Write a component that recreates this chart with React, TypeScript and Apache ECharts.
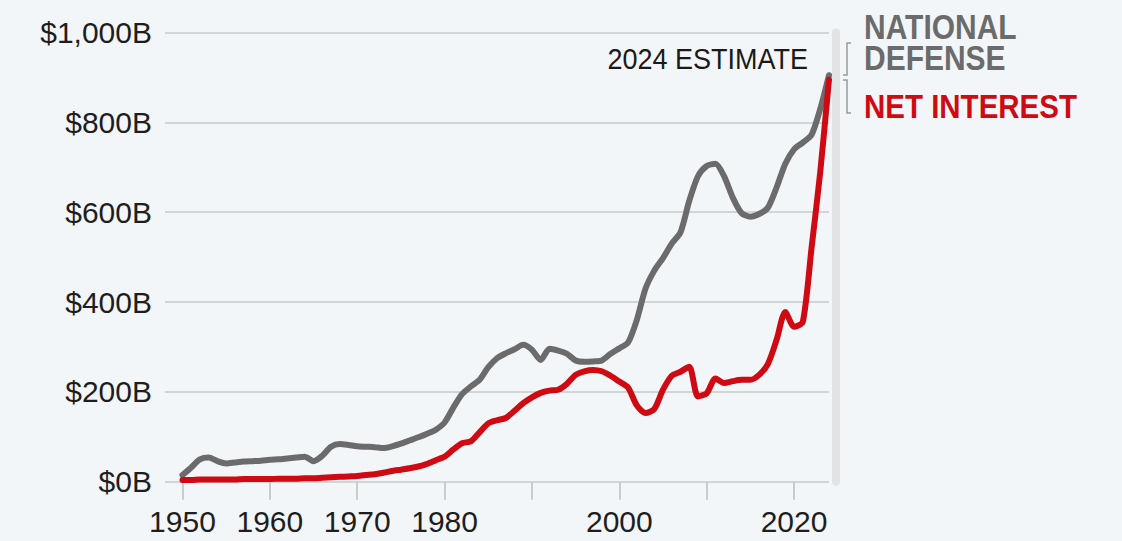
import React, { useEffect, useRef } from "react";
import * as echarts from "echarts";

// Federal outlays by year, billions of dollars
const firstYear = 1950;
const nationalDefense = [
  15, 32, 50, 54, 46, 41, 43, 45, 46, 47,
  49, 50, 52, 54, 56, 46, 58, 78, 84, 82,
  79, 78, 77, 75, 79, 85, 92, 99, 107, 116,
  132, 165, 195, 212, 227, 255, 275, 286, 295, 305,
  294, 271, 296, 292, 285, 270, 267, 268, 270, 285,
  297, 310, 360, 430, 470, 498, 530, 555, 625, 680,
  703, 708, 680, 632, 598, 590, 596, 610, 655, 708,
  740, 755, 772, 830, 905,
];
const netInterest = [
  4, 4, 5, 5, 5, 5, 5, 6, 6, 6,
  6, 7, 7, 7, 8, 8, 9, 10, 11, 12,
  13, 15, 17, 20, 24, 27, 30, 34, 40, 48,
  56, 72, 86, 90, 110, 130, 137, 142, 158, 175,
  188, 198, 203, 205, 218, 238, 246, 249, 246, 236,
  223, 210, 170, 153, 162, 205, 236, 245, 256, 190,
  197, 230, 220, 224, 227, 227, 238, 262, 316, 378,
  345, 356, 520, 690, 895,
];
const xTickYears = [1950, 1960, 1970, 1980, 1990, 2000, 2010, 2020];
const xLabelYears = [1950, 1960, 1970, 1980, 2000, 2020];

const legendLines = ["NATIONAL", "DEFENSE"];
const seriesNames = ["NATIONAL DEFENSE", "NET INTEREST"];
const estimateNote = "2024 ESTIMATE";

const GRAY = "#6b6b6b";
const RED = "#cf0a12";
const BG = "#f3f6f9";
const SANS = '"Liberation Sans", Arial, sans-serif';

const toPairs = (vals: number[]) => vals.map((v, i) => [firstYear + i, v]);

export default function App() {
  const ref = useRef<HTMLDivElement>(null);

  useEffect(() => {
    document.body.style.margin = "0";
    document.body.style.background = BG;
    const chart = echarts.init(ref.current!, null, { renderer: "svg" });

    const labelText = (text: string, x: number, y: number, opts: any) => ({
      type: "text",
      x,
      y,
      scaleY: opts.scaleY ?? 1,
      style: {
        text,
        align: opts.align ?? "left",
        verticalAlign: "middle",
        fontSize: opts.fontSize,
        fontWeight: opts.fontWeight ?? "normal",
        fontFamily: SANS,
        fill: opts.fill,
      },
    });

    chart.setOption({
      animation: false,
      backgroundColor: BG,
      grid: { left: 165, right: 293, top: 32.5, bottom: 59.2 },
      xAxis: {
        type: "value",
        min: 1948,
        max: 2024,
        axisLine: { show: false },
        splitLine: { show: false },
        axisTick: {
          show: true,
          customValues: xTickYears,
          length: 18,
          lineStyle: { color: "#c9cbcd", width: 2 },
        },
        axisLabel: {
          customValues: xLabelYears,
          margin: 25,
          fontSize: 30,
          fontFamily: SANS,
          color: "#1e1e1e",
          formatter: (v: number) => String(v),
        },
      },
      yAxis: [
        {
          type: "value",
          min: 0,
          max: 1000,
          interval: 200,
          axisLine: { show: false },
          axisTick: { show: false },
          splitLine: { lineStyle: { color: "#d2d4d6", width: 2 } },
          axisLabel: {
            margin: 13,
            fontSize: 30,
            fontFamily: SANS,
            color: "#1e1e1e",
            formatter: (v: number) => "$" + v.toLocaleString("en-US") + "B",
          },
        },
        {
          type: "value",
          position: "right",
          min: 0,
          max: 1000,
          offset: 7,
          axisLine: { show: true, lineStyle: { color: "#e1e3e5", width: 8 } },
          axisTick: { show: false },
          axisLabel: { show: false },
          splitLine: { show: false },
        },
      ],
      series: [
        {
          name: seriesNames[0],
          type: "line",
          data: toPairs(nationalDefense),
          showSymbol: false,
          smooth: 0.25,
          lineStyle: { color: GRAY, width: 6, cap: "round", join: "round" },
          z: 2,
        },
        {
          name: seriesNames[1],
          type: "line",
          data: toPairs(netInterest),
          showSymbol: false,
          smooth: 0.25,
          lineStyle: { color: RED, width: 6, cap: "round", join: "round" },
          z: 3,
        },
      ],
      graphic: [
        labelText(estimateNote, 808, 59, { align: "right", fontSize: 27, scaleY: 1.1, fill: "#1a1a1a" }),
        {
          type: "polyline",
          shape: { points: [[851, 43], [847, 43], [847, 75], [843, 75]] },
          style: { stroke: "#9a9a9a", lineWidth: 1.5, fill: null },
        },
        {
          type: "polyline",
          shape: { points: [[843, 80], [847, 80], [847, 113], [851, 113]] },
          style: { stroke: "#9a9a9a", lineWidth: 1.5, fill: null },
        },
        labelText(legendLines[0], 864, 27.5, { fontSize: 30, fontWeight: "bold", scaleY: 1.15, fill: GRAY }),
        labelText(legendLines[1], 864, 58.5, { fontSize: 30, fontWeight: "bold", scaleY: 1.15, fill: GRAY }),
        labelText(seriesNames[1], 864, 106, { fontSize: 29.5, fontWeight: "bold", scaleY: 1.15, fill: RED }),
      ],
    });
    return () => chart.dispose();
  }, []);

  return (
    <div
      ref={ref}
      style={{ position: "fixed", left: 0, top: 0, width: 1122, height: 541 }}
    />
  );
}
